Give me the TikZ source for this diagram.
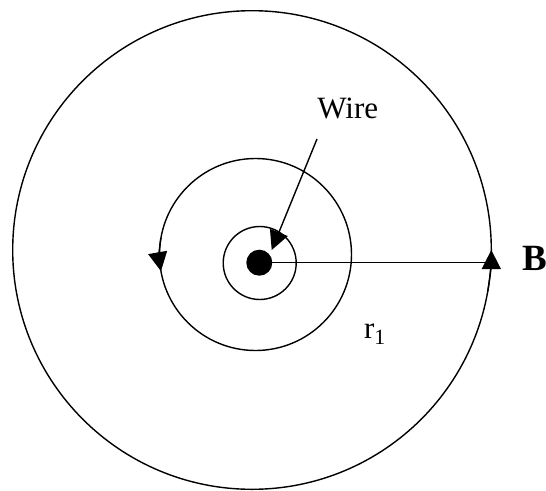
\documentclass[tikz,border=0pt]{standalone}
\usepackage{fontspec}
\setmainfont{Liberation Serif}
\usetikzlibrary{arrows.meta}
\tikzset{
    lbl/.style={inner sep=0pt, font=\fontsize{31}{36}\selectfont},
    biglbl/.style={inner sep=0pt, font=\fontsize{37}{42}\selectfont\bfseries}
}
\begin{document}
\begin{tikzpicture}[x=1pt, y=-1pt, >={Triangle[length=19pt,width=19pt]}, line width=1.4pt]
    \useasboundingbox (0,0) rectangle (546,490);
    \def\Rout{239.3}
    \def\Rmid{96}
    \def\Rin{36.5}

    % Outer field line
    \draw (252,250) circle (\Rout);
    \draw[->] ([shift={(252,250)}]10:\Rout) arc (10:0:\Rout);

    % Inner field line r1
    \draw (255.5,254.5) circle (\Rmid);
    \draw[->] ([shift={(255.5,254.5)}]190:\Rmid) arc (190:170:\Rmid);

    % Wire
    \draw (259.7,263) circle (\Rin);
    \node[circle, fill, inner sep=0pt, minimum size=26pt] (dot) at (259.3,262.7) {};

    % Label pointing to wire
    \node[lbl, anchor=base] (wire) at (347.8,118.3) {Wire};
    \coordinate (tail) at (317,139);
    \coordinate (tip) at (271.7,250);
    \draw[->] (tail) -- (tip);

    % Radius out to B
    \coordinate (edge) at (491.3,262.7);
    \draw (dot.center) -- (edge);
    \node[biglbl, anchor=base west] (B) at (521.7,270) {B};
    \node[lbl, anchor=base west] (r1) at (363.3,338.3) {r\textsubscript{1}};
\end{tikzpicture}
\end{document}
